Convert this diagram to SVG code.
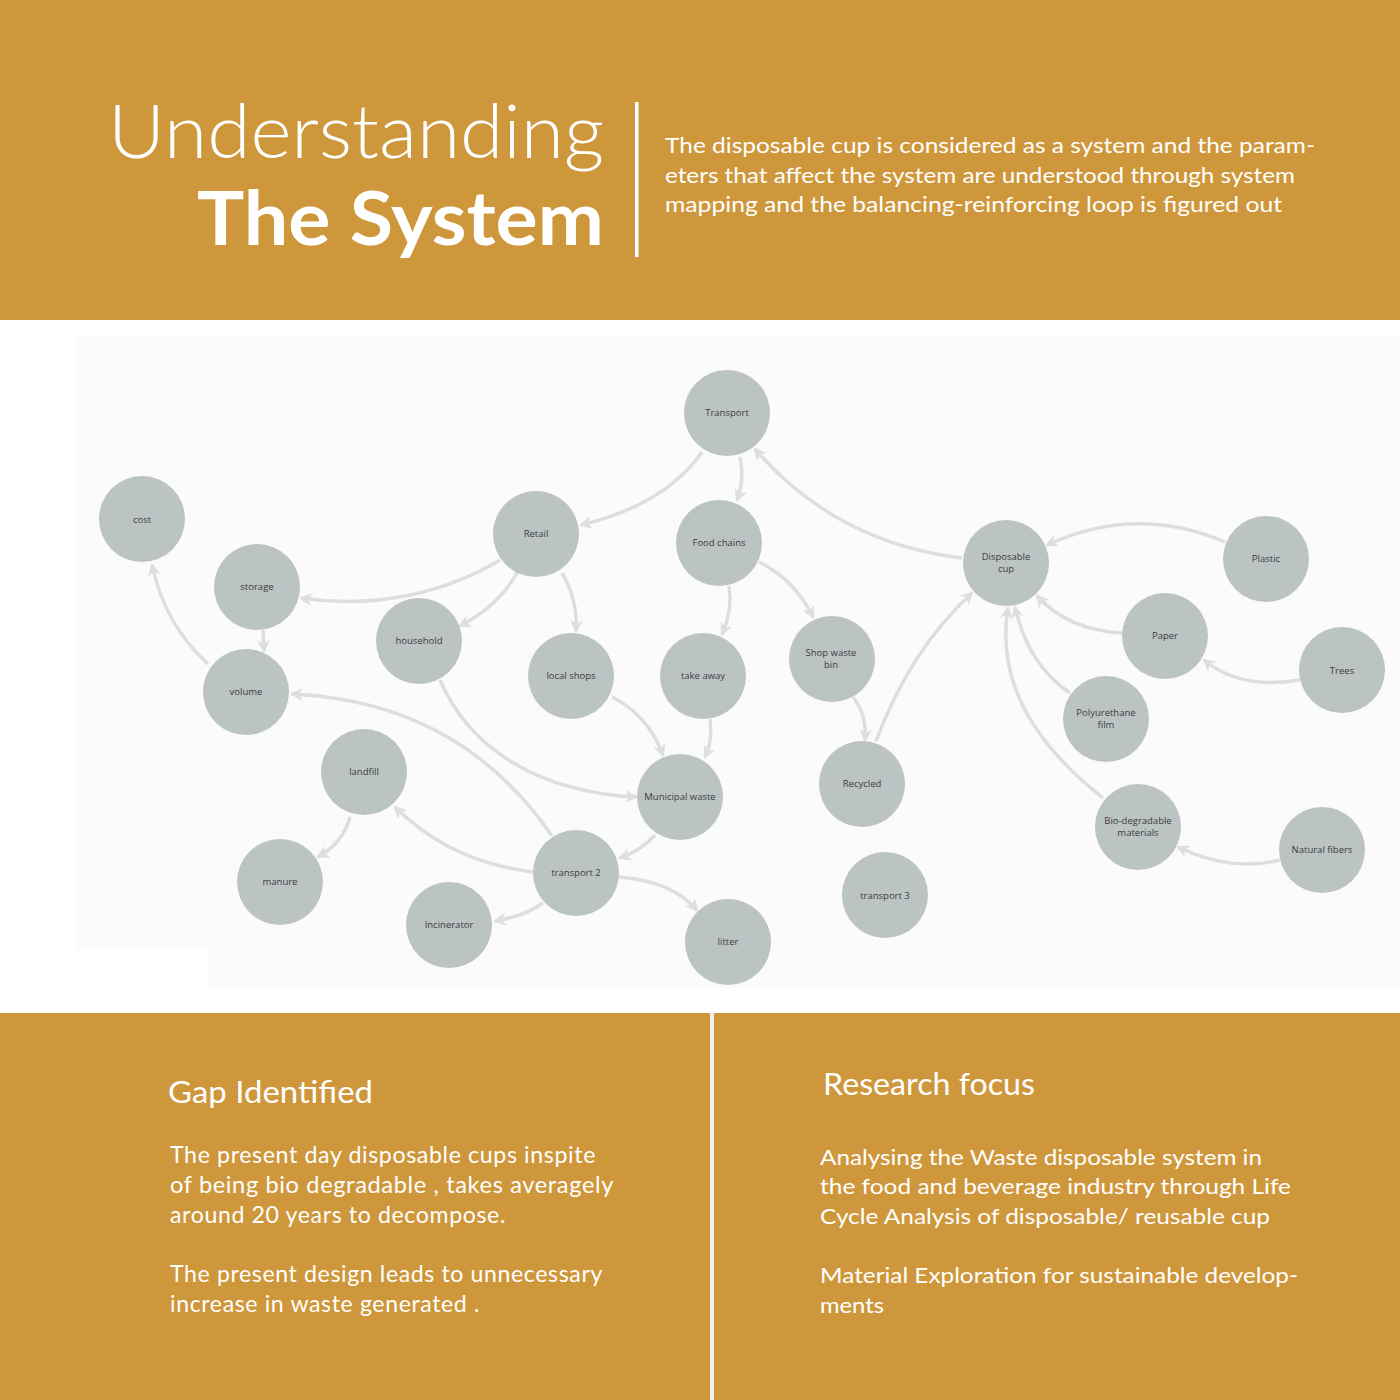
<svg xmlns="http://www.w3.org/2000/svg" width="1400" height="1400" viewBox="0 0 1400 1400">
<defs>
<style>
.band{fill:#CF973B}
.panel{fill:#FAFBFA}
.node circle{fill:#BCC3C3}
.node text{font-family:"Open Sans","Noto Sans",sans-serif;font-size:9.5px;fill:#3A3D3D;text-anchor:middle}
.edge{fill:none;stroke:#DDDEDD;stroke-width:3.5;marker-end:url(#ah)}
.w{fill:#FFFFFF;font-family:Lato,"Open Sans",sans-serif}
.desc{font-size:22px;font-weight:400}
.head{font-size:30px;font-weight:400}
.body{font-size:22.5px;font-weight:400;letter-spacing:0.6px}
</style>
<marker id="ah" viewBox="0 0 12 12" refX="10" refY="6" markerWidth="13" markerHeight="13" markerUnits="userSpaceOnUse" orient="auto">
<path d="M0,0 L12,6 L0,12 L3.5,6 z" fill="#DDDEDD"/>
</marker>
</defs>

<!-- header -->
<rect class="band" x="0" y="0" width="1400" height="320"/>
<text class="w" x="604" y="158" text-anchor="end" font-size="74" font-weight="300" textLength="496" lengthAdjust="spacingAndGlyphs">Understanding</text>
<text class="w" x="604" y="245" text-anchor="end" font-size="74" font-weight="700" textLength="407" lengthAdjust="spacingAndGlyphs">The System</text>
<rect x="635" y="102" width="3.5" height="155" fill="#FFFFFF"/>
<text class="w desc" x="665" y="153" textLength="650" lengthAdjust="spacingAndGlyphs">The disposable cup is considered as a system and the param-</text>
<text class="w desc" x="665" y="183" textLength="630" lengthAdjust="spacingAndGlyphs">eters that affect the system are understood through system</text>
<text class="w desc" x="665" y="212" textLength="617" lengthAdjust="spacingAndGlyphs">mapping and the balancing-reinforcing loop is figured out</text>

<!-- middle panel -->
<rect x="0" y="320" width="1400" height="693" fill="#FFFFFF"/>
<path class="panel" d="M76,335 H1400 V990 H208 V948 H76 Z"/>

<!-- connectors -->
<g id="connectors">
<path class="edge" d="M702,452 Q665,505 581,525"/>
<path class="edge" d="M740,457 Q745,480 737,500"/>
<path class="edge" d="M962,558 Q836,543 755,449"/>
<path class="edge" d="M500,560 C450,590 380,610 301,598"/>
<path class="edge" d="M518,571 Q500,605 460,626"/>
<path class="edge" d="M562,573 Q578,600 576,631"/>
<path class="edge" d="M729,586 Q733,610 722,634"/>
<path class="edge" d="M759,562 Q795,580 813,617"/>
<path class="edge" d="M853,697 Q867,715 865,740"/>
<path class="edge" d="M876,741 Q910,650 972,593"/>
<path class="edge" d="M1225,542 Q1136,504 1047,545"/>
<path class="edge" d="M1122,633 Q1068,630 1037,596"/>
<path class="edge" d="M1300,680 Q1240,690 1204,660"/>
<path class="edge" d="M1070,693 Q1028,665 1015,607"/>
<path class="edge" d="M1103,798 Q991,710 1008,608"/>
<path class="edge" d="M1280,860 Q1230,872 1178,847"/>
<path class="edge" d="M263,630 L264,651"/>
<path class="edge" d="M208,664 Q165,625 152,565"/>
<path class="edge" d="M440,680 C470,750 540,792 636,797"/>
<path class="edge" d="M612,697 Q648,715 663,755"/>
<path class="edge" d="M710,719 Q713,740 705,757"/>
<path class="edge" d="M552,836 C500,760 420,700 292,694"/>
<path class="edge" d="M655,835 Q642,850 620,858"/>
<path class="edge" d="M533,872 Q450,862 395,807"/>
<path class="edge" d="M350,817 Q343,843 318,857"/>
<path class="edge" d="M543,903 Q525,916 495,921"/>
<path class="edge" d="M618,877 Q670,880 697,910"/>
</g>

<!-- nodes -->
<g id="n-transport" class="node"><circle cx="727" cy="413" r="43"/><text x="727" y="416">Transport</text></g>
<g id="n-cost" class="node"><circle cx="142" cy="519" r="43"/><text x="142" y="523">cost</text></g>
<g id="n-retail" class="node"><circle cx="536" cy="534" r="43"/><text x="536" y="537">Retail</text></g>
<g id="n-foodchains" class="node"><circle cx="719" cy="543" r="43"/><text x="719" y="546">Food chains</text></g>
<g id="n-disposablecup" class="node"><circle cx="1006" cy="563" r="43"/><text x="1006" y="560">Disposable</text><text x="1006" y="572">cup</text></g>
<g id="n-plastic" class="node"><circle cx="1266" cy="559" r="43"/><text x="1266" y="562">Plastic</text></g>
<g id="n-storage" class="node"><circle cx="257" cy="587" r="43"/><text x="257" y="590">storage</text></g>
<g id="n-household" class="node"><circle cx="419" cy="641" r="43"/><text x="419" y="644">household</text></g>
<g id="n-paper" class="node"><circle cx="1165" cy="636" r="43"/><text x="1165" y="639">Paper</text></g>
<g id="n-localshops" class="node"><circle cx="571" cy="676" r="43"/><text x="571" y="679">local shops</text></g>
<g id="n-takeaway" class="node"><circle cx="703" cy="676" r="43"/><text x="703" y="679">take away</text></g>
<g id="n-shopwastebin" class="node"><circle cx="832" cy="659" r="43"/><text x="831" y="656">Shop waste</text><text x="831" y="668">bin</text></g>
<g id="n-trees" class="node"><circle cx="1342" cy="670" r="43"/><text x="1342" y="674">Trees</text></g>
<g id="n-volume" class="node"><circle cx="246" cy="692" r="43"/><text x="246" y="695">volume</text></g>
<g id="n-polyurethane" class="node"><circle cx="1106" cy="719" r="43"/><text x="1106" y="716">Polyurethane</text><text x="1106" y="728">film</text></g>
<g id="n-landfill" class="node"><circle cx="364" cy="772" r="43"/><text x="364" y="775">landfill</text></g>
<g id="n-recycled" class="node"><circle cx="862" cy="784" r="43"/><text x="862" y="787">Recycled</text></g>
<g id="n-municipal" class="node"><circle cx="680" cy="797" r="43"/><text x="680" y="800">Municipal waste</text></g>
<g id="n-biodegradable" class="node"><circle cx="1138" cy="827" r="43"/><text x="1138" y="824">Bio-degradable</text><text x="1138" y="836">materials</text></g>
<g id="n-naturalfibers" class="node"><circle cx="1322" cy="850" r="43"/><text x="1322" y="853">Natural fibers</text></g>
<g id="n-manure" class="node"><circle cx="280" cy="882" r="43"/><text x="280" y="885">manure</text></g>
<g id="n-transport2" class="node"><circle cx="576" cy="873" r="43"/><text x="576" y="876">transport 2</text></g>
<g id="n-transport3" class="node"><circle cx="885" cy="895" r="43"/><text x="885" y="899">transport 3</text></g>
<g id="n-incinerator" class="node"><circle cx="449" cy="925" r="43"/><text x="449" y="928">Incinerator</text></g>
<g id="n-litter" class="node"><circle cx="728" cy="942" r="43"/><text x="728" y="945">litter</text></g>

<!-- bottom -->
<rect class="band" x="0" y="1013" width="1400" height="387"/>
<rect x="710" y="1013" width="4" height="387" fill="#F4F1EC"/>
<text class="w head" x="168" y="1103" textLength="205" lengthAdjust="spacingAndGlyphs">Gap Identified</text>
<text class="w body" x="170" y="1163" textLength="426" lengthAdjust="spacingAndGlyphs">The present day disposable cups inspite</text>
<text class="w body" x="170" y="1193" textLength="444" lengthAdjust="spacingAndGlyphs">of being bio degradable , takes averagely</text>
<text class="w body" x="170" y="1223" textLength="336" lengthAdjust="spacingAndGlyphs">around 20 years to decompose.</text>
<text class="w body" x="170" y="1282" textLength="433" lengthAdjust="spacingAndGlyphs">The present design leads to unnecessary</text>
<text class="w body" x="170" y="1312" textLength="310" lengthAdjust="spacingAndGlyphs">increase in waste generated .</text>

<text class="w head" x="823" y="1095" textLength="212" lengthAdjust="spacingAndGlyphs">Research focus</text>
<text class="w desc" x="820" y="1165" textLength="442" lengthAdjust="spacingAndGlyphs">Analysing the Waste disposable system in</text>
<text class="w desc" x="820" y="1194" textLength="471" lengthAdjust="spacingAndGlyphs">the food and beverage industry through Life</text>
<text class="w desc" x="820" y="1224" textLength="450" lengthAdjust="spacingAndGlyphs">Cycle Analysis of disposable/ reusable cup</text>
<text class="w desc" x="820" y="1283" textLength="478" lengthAdjust="spacingAndGlyphs">Material Exploration for sustainable develop-</text>
<text class="w desc" x="820" y="1313" textLength="64" lengthAdjust="spacingAndGlyphs">ments</text>
</svg>
